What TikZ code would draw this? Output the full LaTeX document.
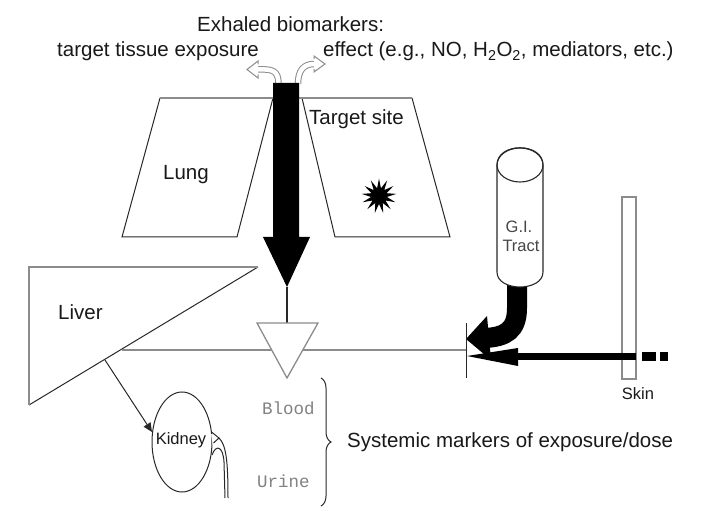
\documentclass[tikz,border=0pt]{standalone}
\usepackage{fontspec}
\setmainfont{Liberation Sans}
\setmonofont{Liberation Mono}
\usetikzlibrary{shapes.geometric,decorations.pathreplacing,arrows.meta}
\definecolor{edgegray}{RGB}{140,140,140}
\definecolor{darkline}{RGB}{40,40,40}
\definecolor{textgray}{RGB}{130,130,130}
\definecolor{gitext}{RGB}{70,70,70}
\begin{document}
\begin{tikzpicture}[x=1pt,y=-1pt,
  lbl/.style={font=\fontsize{20.5}{24}\selectfont, inner sep=0pt, text=black!90},
  smlbl/.style={font=\fontsize{16.5}{19}\selectfont, inner sep=0pt, text=black!90},
  monolbl/.style={font=\ttfamily\fontsize{17.5}{20}\selectfont, inner sep=0pt, text=textgray},
  topedge/.style={draw=edgegray, line width=2pt},
  thinedge/.style={draw=darkline, line width=1pt},
  grayedge/.style={draw=edgegray, line width=1.4pt},
  hollowstem/.style={draw=edgegray, double=white, double distance=4.5pt, line width=1pt},
  hollowhead/.style={draw=edgegray, line width=1pt, fill=white}]
\useasboundingbox[fill=white] (0,0) rectangle (702,521);

% ---------- texts at top ----------
\node[lbl, anchor=base west] (exh) at (197,32) {Exhaled biomarkers:};
\node[lbl, anchor=base west] (tte) at (57,57) {target tissue exposure};
\node[lbl, anchor=base west] (eff) at (323,57) {effect (e.g., NO, H\textsubscript{2}O\textsubscript{2}, mediators, etc.)};

% ---------- lung & target site ----------
\draw[thinedge] (160,98) -- (122,237) -- (237,237) -- (273,98);
\draw[topedge] (160,98) -- (273,98);
\draw[thinedge] (302,98) -- (335,237) -- (450,237) -- (412,98);
\draw[topedge] (299,98) -- (412,98);
\node[lbl, anchor=base] (lung) at (186,180) {Lung};
\node[lbl, anchor=base west] (tsite) at (309,125) {Target site};
\node[star, star points=13, star point ratio=2.2, minimum size=35pt, fill=black, inner sep=0pt] (burst) at (379,196) {};

% ---------- hollow exhaled arrows ----------
\coordinate (lstem) at (278.5,84);
\coordinate (rstem) at (298,84);
\draw[hollowstem] (lstem) .. controls (278.5,70) and (272,69) .. (258,69.5);
\fill[white] (258,61) -- (247,69.5) -- (258,78) -- cycle;
\draw[draw=edgegray, line width=1pt] (258,64.5) -- (258,61) -- (247,69.5) -- (258,78) -- (258,74.5);
\draw[hollowstem] (rstem) .. controls (298,70) and (304,64) .. (314,64);
\fill[white] (314,56) -- (325,64) -- (314,72) -- cycle;
\draw[draw=edgegray, line width=1pt] (314,59) -- (314,56) -- (325,64) -- (314,72) -- (314,69);

% ---------- big black inhalation arrow ----------
\fill[black] (273,83) -- (299,83) -- (299,237) -- (310,237) -- (287,287) -- (263,237) -- (273,237) -- cycle;
\coordinate (bigtip) at (287,287);

% ---------- liver ----------
\draw[thinedge] (258,267) -- (29,405);
\draw[topedge] (29,405) -- (29,267) -- (258,267);
\node[lbl, anchor=base west] (liver) at (58,320) {Liver};
\coordinate (hstart) at (122,350);
\coordinate (hend) at (466,350);
\draw[grayedge] (hstart) -- (hend);

% ---------- blood triangle ----------
\draw[darkline, line width=1.1pt] (bigtip) -- (287,323);
\filldraw[fill=white, draw=edgegray, line width=1.3pt] (257,323) -- (318,323) -- (287,378) -- cycle;

% ---------- kidney ----------
\coordinate (kstart) at (105,360);
\coordinate (kend) at (152,432);
\draw[darkline, line width=1pt, -{Triangle[length=9pt,width=8pt]}] (kstart) -- (kend);
\draw[darkline, line width=1pt] (182,442) ellipse [x radius=30, y radius=50];
\fill[white] (211,434) -- (219,438) -- (213,446) -- cycle;
\draw[darkline, line width=1pt] (211.5,432) -- (219,438) -- (213.5,443);
\draw[darkline, line width=1pt] (219,438) .. controls (226,445) and (228,460) .. (228,498);
\draw[darkline, line width=1pt] (212,455) .. controls (216,444) and (223,446) .. (224,462) -- (225,498);
\node[smlbl, anchor=base] (kidney) at (181,445) {Kidney};

% ---------- blood / urine / brace ----------
\node[monolbl, anchor=base west] (blood) at (262,415) {Blood};
\node[monolbl, anchor=base west] (urine) at (257,487) {Urine};
\draw[darkline, line width=1pt, decorate, decoration={brace, amplitude=10pt}] (321,378) -- (321,506);
\node[lbl, anchor=base west] (sys) at (347,447) {Systemic markers of exposure/dose};

% ---------- skin ----------
\filldraw[fill=white, draw=edgegray, line width=1.4pt] (622,197) rectangle (636,379);
\node[smlbl, anchor=base] (skin) at (638,400) {Skin};

% ---------- G.I. tract ----------
\draw[black, line width=20pt] (517,280) -- (517,308) .. controls (517,330) and (506,337) .. (485,338);
\fill[black] (466,339) -- (487,316) -- (491,360) -- cycle;
\filldraw[fill=white, draw=darkline, line width=1.1pt] (497,165) -- (497,272) .. controls (497,292) and (543,292) .. (543,272) -- (543,165) .. controls (543,142) and (497,142) .. (497,165) -- cycle;
\draw[darkline, line width=1.1pt] (520,165) ellipse [x radius=23, y radius=17];
\node[smlbl, text=gitext, anchor=base] (gi) at (519,233) {G.I.};
\node[smlbl, text=gitext, anchor=base] (tract) at (521,252) {Tract};

% ---------- skin route arrow ----------
\coordinate (sstart) at (636,356.5);
\draw[black, line width=7.5pt] (sstart) -- (512,356.5);
\fill[black] (467,356) -- (518,348) -- (518,366) -- cycle;
\fill[black] (642,352) rectangle (656,361);
\fill[black] (660,352) rectangle (668,361);
\draw[darkline, line width=1pt] (466,323) -- (466,378);
\end{tikzpicture}
\end{document}
